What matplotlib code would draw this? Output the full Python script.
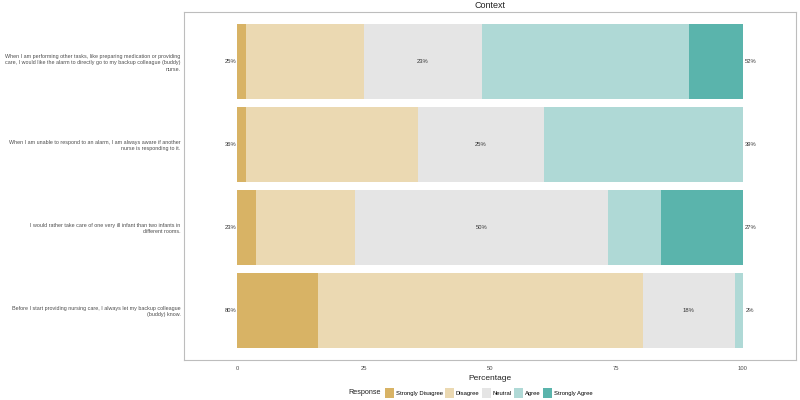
import numpy as np
import matplotlib
matplotlib.use('Agg')
import matplotlib.pyplot as plt
from matplotlib.patches import Patch

plt.rcParams['font.family'] = ['Liberation Sans', 'DejaVu Sans']

# survey items (top to bottom) and percentage of responses per level
items = [
    "When I am performing other tasks, like preparing medication or providing\ncare, I would like the alarm to directly go to my backup colleague (buddy)\nnurse.",
    "When I am unable to respond to an alarm, I am always aware if another\nnurse is responding to it.",
    "I would rather take care of one very ill infant than two infants in\ndifferent rooms.",
    "Before I start providing nursing care, I always let my backup colleague\n(buddy) know.",
]
levels = ['Strongly Disagree', 'Disagree', 'Neutral', 'Agree', 'Strongly Agree']
strongly_disagree = [1.8, 1.8, 3.7, 16.0]
disagree = [23.2, 34.0, 19.6, 64.2]
neutral = [23.4, 24.8, 50.0, 18.2]
agree = [41.0, 39.4, 10.6, 1.6]
strongly_agree = [10.6, 0.0, 16.1, 0.0]
colors = ['#D8B365', '#EBD9B2', '#E5E5E5', '#AFD9D6', '#5AB4AC']

series = np.array([strongly_disagree, disagree, neutral, agree, strongly_agree])

fig = plt.figure(figsize=(8, 4), dpi=100)
ax = fig.add_axes([0.23, 0.1, 0.765, 0.87])

ypos = np.arange(len(items))[::-1] + 1
left = np.zeros(len(items))
for vals, lab, col in zip(series, levels, colors):
    ax.barh(ypos, vals, left=left, height=0.9, color=col, label=lab)
    left += vals

low = series[0] + series[1]
mid = series[2]
high = series[3] + series[4]
neu_center = series[0] + series[1] + series[2] / 2
for y, lo, m, hi, c in zip(ypos, low, mid, high, neu_center):
    ax.text(-1.2, y, f"{lo:.0f}%", ha='center', va='center', fontsize=4.2, color='#333333')
    ax.text(c, y, f"{m:.0f}%", ha='center', va='center', fontsize=4.2, color='#333333')
    ax.text(101.5, y, f"{hi:.0f}%", ha='center', va='center', fontsize=4.2, color='#333333')

ax.set_xlim(-10.5, 110.5)
ax.set_ylim(0.4, 4.6)
ax.set_yticks(ypos)
ax.set_yticklabels(items, fontsize=3.9, color='#4d4d4d', linespacing=1.35)
ax.set_xticks([0, 25, 50, 75, 100])
ax.set_xticklabels(['0', '25', '50', '75', '100'], fontsize=4.2, color='#4d4d4d')
ax.tick_params(length=0, pad=4)
ax.tick_params(axis='y', pad=2.5)
for s in ax.spines.values():
    s.set_color('#bdbdbd')
    s.set_linewidth(0.8)

ax.set_xlabel('Percentage', fontsize=6, color='#222222', labelpad=3)
ax.set_title('Context', fontsize=6.5, color='#222222', pad=3)

handles = [Patch(facecolor=c, edgecolor='none') for c in colors]
fig.text(0.436, 0.0175, 'Response', fontsize=5.2, color='#222222', va='center')
fig.legend(handles, levels, loc='center left', bbox_to_anchor=(0.478, 0.0175), ncol=5,
           frameon=False, fontsize=4.2, handlelength=1.45, handleheight=2.3,
           handletextpad=0.35, columnspacing=0.45, borderpad=0)

fig.savefig('out.png', dpi=100)
